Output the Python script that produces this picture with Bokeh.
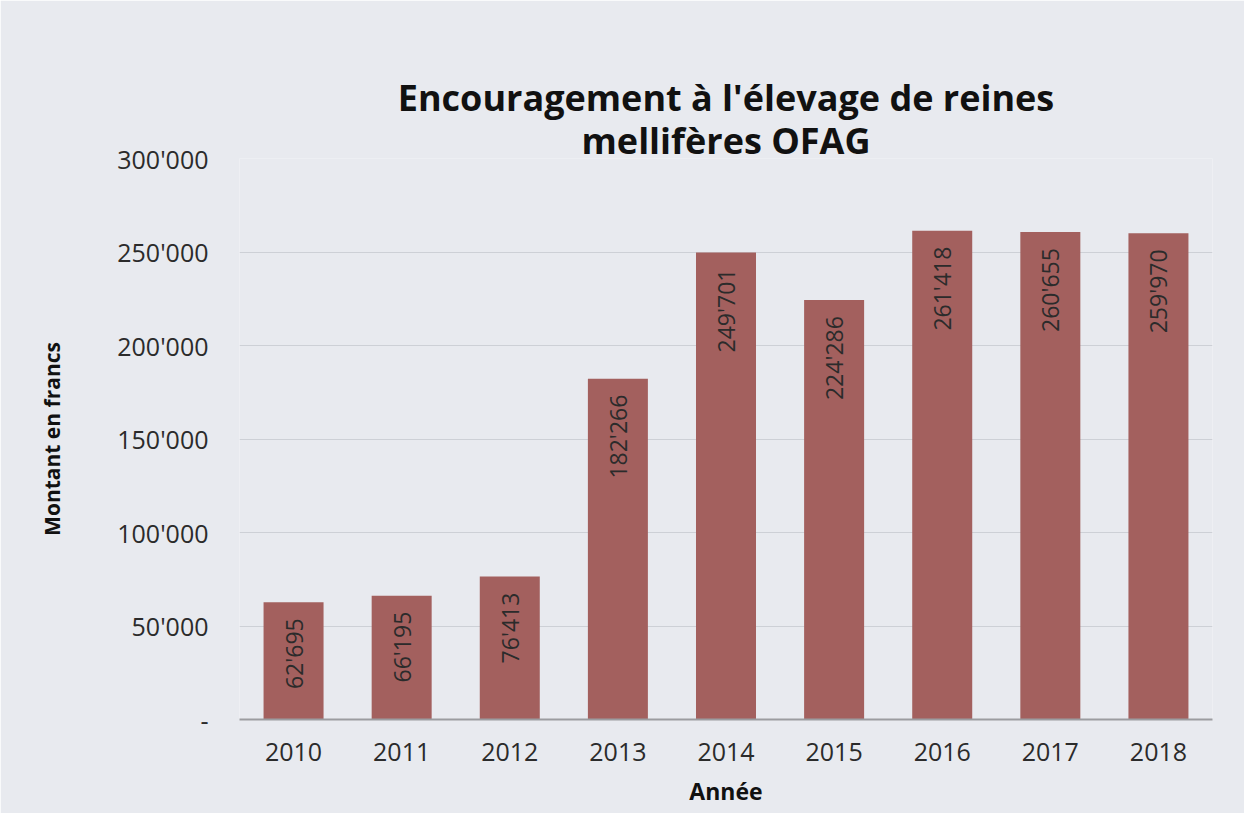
from bokeh.plotting import figure
from bokeh.models import ColumnDataSource, FixedTicker, Title
from bokeh.core.properties import value
from bokeh.embed import file_html
from bokeh.resources import INLINE
import math

years = ["2010", "2011", "2012", "2013", "2014", "2015", "2016", "2017", "2018"]
amounts = [62695, 66195, 76413, 182266, 249701, 224286, 261418, 260655, 259970]
y_ticks = [0, 50000, 100000, 150000, 200000, 250000, 300000]
y_tick_labels = ["-", "50'000", "100'000", "150'000", "200'000", "250'000", "300'000"]
title_lines = ["Encouragement à l'élevage de reines", "mellifères OFAG"]
x_title = "Année"
y_title = "Montant en francs"

FONT = "Open Sans"
BG = "#e8eaef"
BAR = "#a3605e"
TXT = "#2b2b2b"

labels = [f"{v:,}".replace(",", "'") for v in amounts]
src = ColumnDataSource(dict(year=years, amount=amounts, label=labels))

p = figure(width=1244, height=813, x_range=years, y_range=(0, 300000),
           output_backend="svg", toolbar_location=None,
           min_border_left=239, min_border_right=32, min_border_top=158, min_border_bottom=94)
p.background_fill_color = BG
p.border_fill_color = BG
p.outline_line_color = None
p.title.visible = False

p.vbar(x="year", top="amount", width=0.555, source=src, fill_color=BAR, line_color=None)

p.text(x="year", y="amount", text="label", source=src, angle=math.pi / 2,
       text_align="right", text_baseline="middle", y_offset=16,
       text_font=value(FONT), text_font_size="23px", text_color=TXT)

# y axis
p.yaxis.ticker = FixedTicker(ticks=y_ticks)
p.yaxis.major_label_overrides = {t: l for t, l in zip(y_ticks, y_tick_labels)}
p.yaxis.axis_line_color = None
p.yaxis.major_tick_line_color = None
p.yaxis.minor_tick_line_color = None
p.yaxis.major_label_standoff = 25
p.yaxis.major_label_text_font = FONT
p.yaxis.major_label_text_font_size = "25px"
p.yaxis.major_label_text_color = TXT
p.yaxis.axis_label = y_title
p.yaxis.axis_label_text_font = FONT
p.yaxis.axis_label_text_font_style = "bold"
p.yaxis.axis_label_text_font_size = "21px"
p.yaxis.axis_label_text_color = "#111111"
p.yaxis.axis_label_standoff = 48

# x axis
p.xaxis.axis_line_color = "#9b9ca0"
p.xaxis.axis_line_width = 2
p.xaxis.major_tick_line_color = None
p.xaxis.minor_tick_line_color = None
p.xaxis.major_label_standoff = 17
p.xaxis.major_label_text_font = FONT
p.xaxis.major_label_text_font_size = "25px"
p.xaxis.major_label_text_color = TXT
p.xaxis.axis_label = x_title
p.xaxis.axis_label_text_font = FONT
p.xaxis.axis_label_text_font_style = "bold"
p.xaxis.axis_label_text_font_size = "23px"
p.xaxis.axis_label_text_color = "#111111"
p.xaxis.axis_label_standoff = 11

p.xgrid.grid_line_color = None
p.ygrid.grid_line_color = "#cdd0d6"
p.ygrid.grid_line_width = 1

# two-line title, line 2 nearest to the plot area
for line, so in zip(reversed(title_lines), [-12, -4]):
    p.add_layout(Title(text=line, align="center", standoff=so,
                       text_font=FONT, text_font_style="bold", text_font_size="36px",
                       text_color="#111111"), "above")

open("out.html", "w").write(file_html(p, INLINE))
